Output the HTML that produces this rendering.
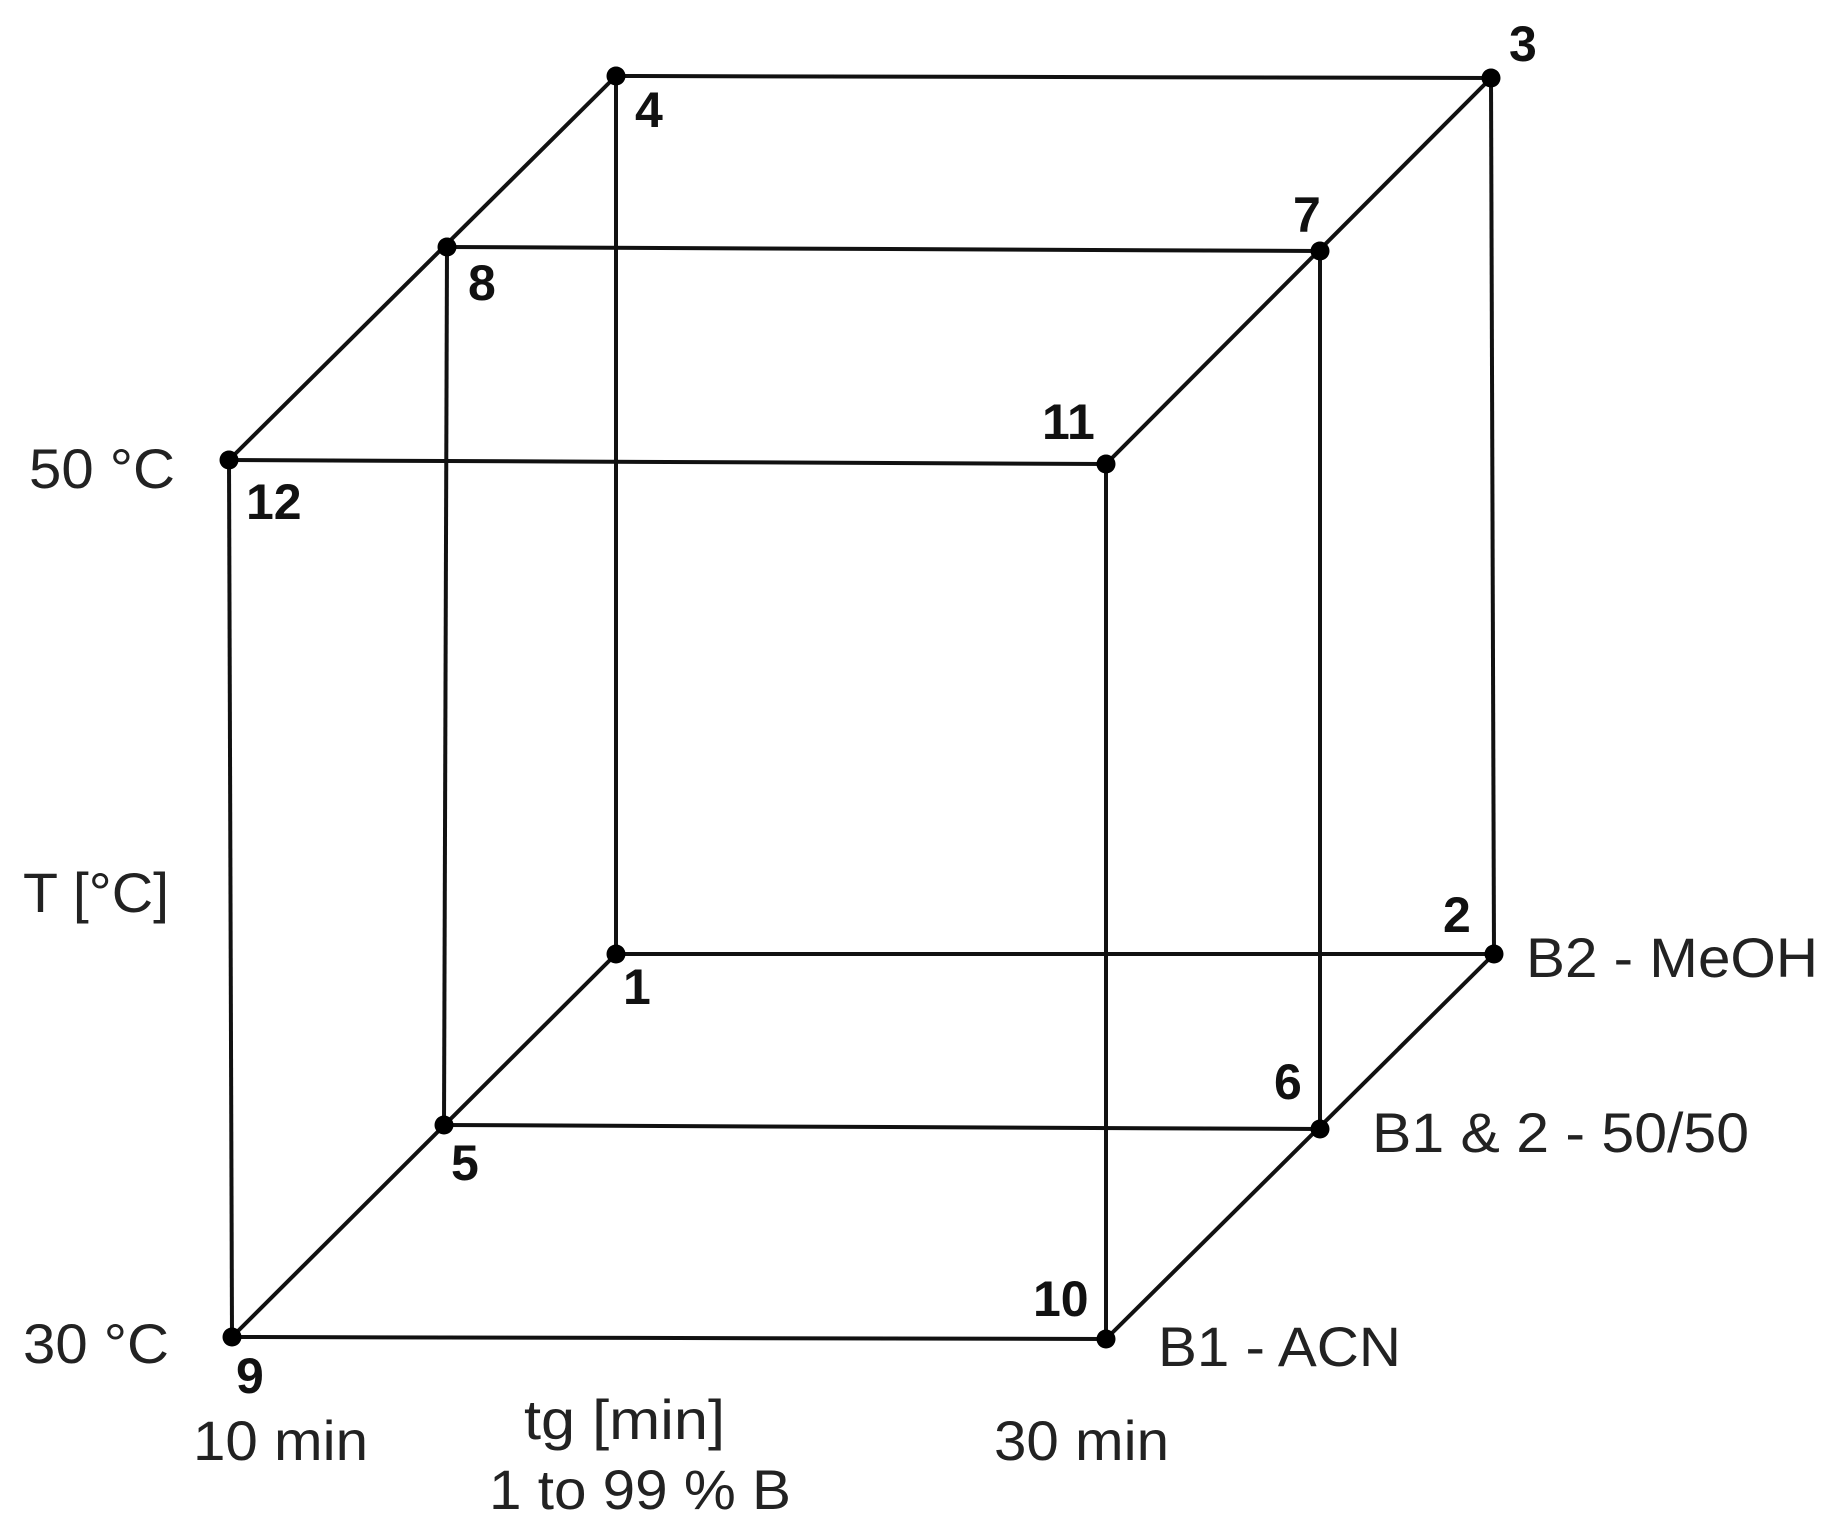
<!DOCTYPE html>
<html><head><meta charset="utf-8"><style>html,body{margin:0;padding:0;background:#fff}svg{display:block}</style></head>
<body>
<svg width="1834" height="1538" viewBox="0 0 1834 1538" xmlns="http://www.w3.org/2000/svg">
<g stroke="#111" stroke-width="4" fill="none">
<line x1="616" y1="76" x2="1491" y2="78"/>
<line x1="447" y1="247" x2="1320" y2="251"/>
<line x1="229" y1="460" x2="1106" y2="464"/>
<line x1="616" y1="954" x2="1494" y2="954"/>
<line x1="444" y1="1125" x2="1320" y2="1129"/>
<line x1="232" y1="1337" x2="1106" y2="1339"/>
<line x1="616" y1="76" x2="229" y2="460"/>
<line x1="1491" y1="78" x2="1106" y2="464"/>
<line x1="616" y1="954" x2="232" y2="1337"/>
<line x1="1494" y1="954" x2="1106" y2="1339"/>
<line x1="616" y1="76" x2="616" y2="954"/>
<line x1="1491" y1="78" x2="1494" y2="954"/>
<line x1="447" y1="247" x2="444" y2="1125"/>
<line x1="1320" y1="251" x2="1320" y2="1129"/>
<line x1="229" y1="460" x2="232" y2="1337"/>
<line x1="1106" y1="464" x2="1106" y2="1339"/>
</g>
<g fill="#000">
<circle cx="616" cy="76" r="9.5"/><circle cx="1491" cy="78" r="9.5"/>
<circle cx="447" cy="247" r="9.5"/><circle cx="1320" cy="251" r="9.5"/>
<circle cx="229" cy="460" r="9.5"/><circle cx="1106" cy="464" r="9.5"/>
<circle cx="616" cy="954" r="9.5"/><circle cx="1494" cy="954" r="9.5"/>
<circle cx="444" cy="1125" r="9.5"/><circle cx="1320" cy="1129" r="9.5"/>
<circle cx="232" cy="1337" r="9.5"/><circle cx="1106" cy="1339" r="9.5"/>
</g>
<g font-family="Liberation Sans, Arial, sans-serif" font-weight="bold" font-size="50" fill="#111">
<text x="1509" y="61">3</text>
<text x="635" y="127">4</text>
<text x="468" y="300">8</text>
<text x="1293" y="232">7</text>
<text x="246" y="519">12</text>
<text x="1042" y="439">11</text>
<text x="623" y="1004">1</text>
<text x="1443" y="932">2</text>
<text x="1274" y="1099">6</text>
<text x="451" y="1180">5</text>
<text x="1033" y="1316">10</text>
<text x="236" y="1393">9</text>
</g>
<g font-family="Liberation Sans, Arial, sans-serif" font-size="56" fill="#222">
<text x="29" y="488" textLength="146" lengthAdjust="spacingAndGlyphs">50 °C</text>
<text x="23" y="912" textLength="146" lengthAdjust="spacingAndGlyphs">T [°C]</text>
<text x="23" y="1363" textLength="146" lengthAdjust="spacingAndGlyphs">30 °C</text>
<text x="1526" y="977" textLength="292" lengthAdjust="spacingAndGlyphs">B2 - MeOH</text>
<text x="1372" y="1152" textLength="377" lengthAdjust="spacingAndGlyphs">B1 &amp; 2 - 50/50</text>
<text x="1158" y="1366" textLength="243" lengthAdjust="spacingAndGlyphs">B1 - ACN</text>
<text x="193" y="1460" textLength="175" lengthAdjust="spacingAndGlyphs">10 min</text>
<text x="524" y="1439" textLength="201" lengthAdjust="spacingAndGlyphs">tg [min]</text>
<text x="489" y="1509" textLength="302" lengthAdjust="spacingAndGlyphs">1 to 99 % B</text>
<text x="994" y="1460" textLength="175" lengthAdjust="spacingAndGlyphs">30 min</text>
</g>
</svg>
</body></html>
